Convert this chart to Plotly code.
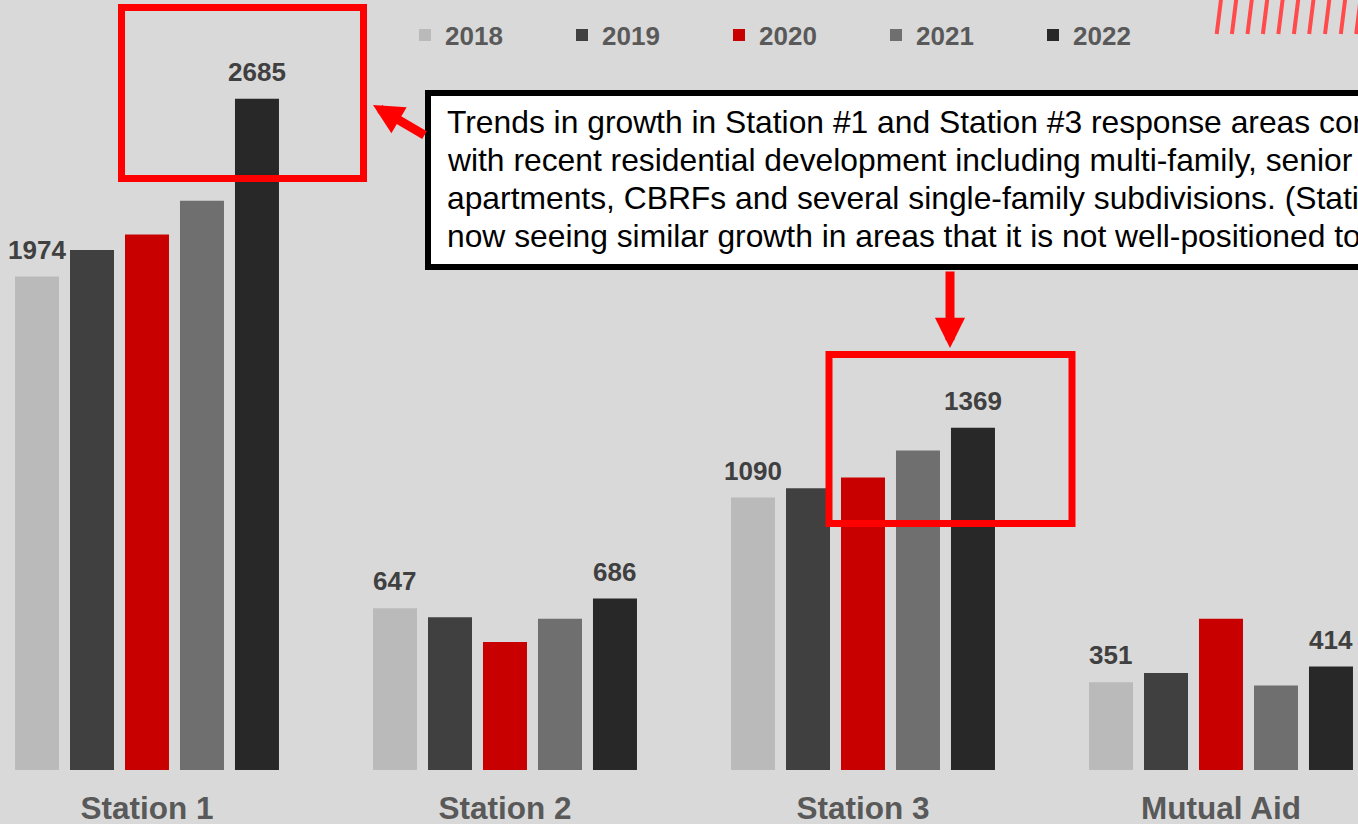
import plotly.graph_objects as go

W, H = 1358, 824
PLOT_H = 770  # plot area height in px (bottom margin holds the station names)

stations = ["Station 1", "Station 2", "Station 3", "Mutual Aid"]
years = ["2018", "2019", "2020", "2021", "2022"]

calls_2018 = [1974, 647, 1090, 351]
calls_2019 = [2080, 611, 1127, 388]
calls_2020 = [2142, 512, 1170, 605]
calls_2021 = [2277, 605, 1278, 338]
calls_2022 = [2685, 686, 1369, 414]

series = [calls_2018, calls_2019, calls_2020, calls_2021, calls_2022]
year_colors = ["#bababa", "#404040", "#c80000", "#6f6f6f", "#282828"]

note_lines = [
    "Trends in growth in Station #1 and Station #3 response areas correlate",
    "with recent residential development including multi-family, senior",
    "apartments, CBRFs and several single-family subdivisions. (Station #2 is",
    "now seeing similar growth in areas that it is not well-positioned to serve.)",
]

FONT = "Arial, Liberation Sans, sans-serif"
BG = "#d9d9d9"


def px(x):
    return x / W


def py(y):
    return (PLOT_H - y) / PLOT_H


fig = go.Figure()

for yr, vals, col in zip(years, series, year_colors):
    fig.add_trace(go.Bar(
        name=yr,
        x=stations,
        y=vals,
        marker=dict(color=col, line=dict(width=0)),
        hoverinfo="x+y+name",
    ))

# value labels only on the first and last year of each group
offsets = {0: -110, 4: 110}
for i, shift in offsets.items():
    for st, v in zip(stations, series[i]):
        fig.add_annotation(
            x=st, y=v, xref="x", yref="y",
            text=str(v), showarrow=False,
            xshift=shift, yshift=10, yanchor="bottom",
            font=dict(family=FONT, size=26, color="#404040", weight="bold"),
        )

shapes = []

# callout box
shapes.append(dict(
    type="rect", xref="paper", yref="paper",
    x0=px(428), x1=px(1420), y0=py(93), y1=py(267),
    line=dict(color="black", width=6), fillcolor="white", layer="above",
))

# red highlight boxes
for x0, x1, y0, y1 in [(121.5, 363.5, 7.5, 178.5), (829, 1072, 354.5, 523.5)]:
    shapes.append(dict(
        type="rect", xref="paper", yref="paper",
        x0=px(x0), x1=px(x1), y0=py(y0), y1=py(y1),
        line=dict(color="#ff0000", width=7), fillcolor="rgba(0,0,0,0)",
        layer="above",
    ))

# decorative hatch in the top right corner
for xb in [1216.7, 1231.9, 1247.5, 1262.9, 1278.3, 1293.9, 1309.2, 1325, 1340.8, 1356.2]:
    shapes.append(dict(
        type="line", xref="paper", yref="paper",
        x0=px(xb), x1=px(xb + 4.5), y0=py(34), y1=py(-2),
        line=dict(color="#ff4b4b", width=4), layer="above",
    ))

fig.update_layout(shapes=shapes)

# callout text, one annotation per line
NOTE_SIZE = 31.8
for k, line in enumerate(note_lines):
    baseline = 133 + k * 37.9
    fig.add_annotation(
        x=px(445), y=py(baseline - 0.347 * NOTE_SIZE), xref="paper", yref="paper",
        xanchor="left", yanchor="middle", align="left",
        text=line, showarrow=False,
        font=dict(family=FONT, size=NOTE_SIZE, color="black"),
    )

# arrows
fig.add_annotation(
    x=px(373), y=py(105), xref="paper", yref="paper",
    ax=53, ay=31, text="", showarrow=True,
    arrowhead=2, arrowsize=0.67, arrowwidth=9, arrowcolor="#ff0000",
)
fig.add_annotation(
    x=px(950), y=py(348), xref="paper", yref="paper",
    ax=0, ay=-78, text="", showarrow=True,
    arrowhead=2, arrowsize=0.67, arrowwidth=9, arrowcolor="#ff0000",
)

fig.update_layout(
    width=W, height=H,
    margin=dict(l=0, r=0, t=0, b=H - PLOT_H, pad=0),
    paper_bgcolor=BG, plot_bgcolor=BG,
    barmode="group", bargap=0.232, bargroupgap=0.2,
    font=dict(family=FONT),
    showlegend=True,
    legend=dict(
        orientation="h", x=px(405), xanchor="left",
        y=py(35), yanchor="middle",
        bgcolor="rgba(0,0,0,0)", borderwidth=0,
        entrywidth=112, entrywidthmode="pixels",
        font=dict(family=FONT, size=26, color="#595959", weight="bold"),
        traceorder="normal",
    ),
    xaxis=dict(
        type="category", range=[-0.4106, 3.3827],
        showgrid=False, zeroline=False, showline=False, ticks="",
        automargin=False, ticklabelstandoff=16,
        tickfont=dict(family=FONT, size=31.5, color="#595959", weight="bold"),
    ),
    yaxis=dict(
        range=[0, PLOT_H / 0.25], visible=False, automargin=False,
        showgrid=False, zeroline=False,
    ),
)

# drop the browser's default page margin so the figure sits at the corner
fig.write_html(
    "out.html",
    config={"displayModeBar": False},
    post_script="document.body.style.margin = '0';",
)
